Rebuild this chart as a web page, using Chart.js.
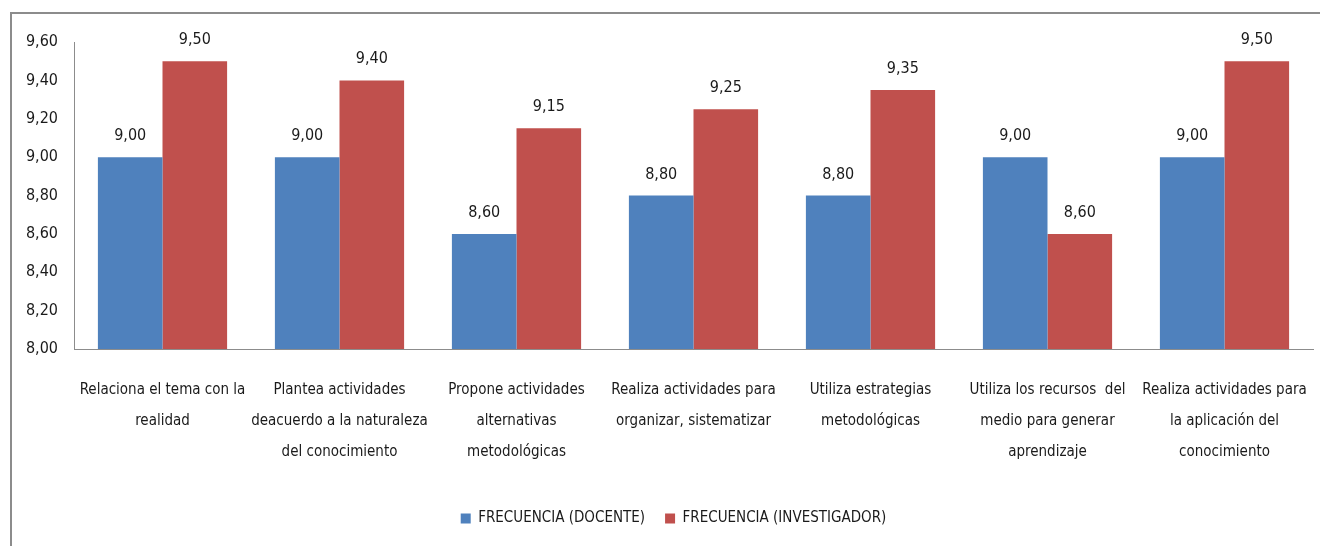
<!DOCTYPE html>
<html>
<head>
<meta charset="utf-8">
<script src="https://cdn.jsdelivr.net/npm/chart.js@4.4.1/dist/chart.umd.min.js"></script>
<style>
    html, body { margin: 0; padding: 0; background: #fff; overflow: hidden; }
    #marco { position: absolute; left: 10px; top: 12px; width: 1340px; height: 560px;
             border-left: 2px solid #8c8c8c; border-top: 2px solid #8c8c8c; }
    #contenedor { position: absolute; left: 0; top: 0; width: 1320px; height: 546px; }
</style>
</head>
<body>
<div id="marco"></div>
<div id="contenedor"><canvas id="grafica" width="1320" height="546"></canvas></div>
<script>
// categorias (cada una partida en lineas como en la imagen)
const categorias = [
    ['Relaciona el tema con la', 'realidad'],
    ['Plantea actividades', 'deacuerdo a la naturaleza', 'del conocimiento'],
    ['Propone actividades', 'alternativas', 'metodológicas'],
    ['Realiza actividades para', 'organizar, sistematizar'],
    ['Utiliza estrategias', 'metodológicas'],
    ['Utiliza los recursos  del', 'medio para generar', 'aprendizaje'],
    ['Realiza actividades para', 'la aplicación del', 'conocimiento']
];
const nombresSeries = ['FRECUENCIA (DOCENTE)', 'FRECUENCIA (INVESTIGADOR)'];
const valoresDocente = [9.00, 9.00, 8.60, 8.80, 8.80, 9.00, 9.00];
const valoresInvestigador = [9.50, 9.40, 9.15, 9.25, 9.35, 8.60, 9.50];
const ejeMin = 8.00;
const ejeMax = 9.60;
const ejePaso = 0.20;

const fuente = "'Liberation Sans Narrow', 'DejaVu Sans Condensed', 'Arial Narrow', sans-serif";

// numeros con coma decimal
function conComa(v) {
    return Number(v).toFixed(2).replace('.', ',');
}

// plugin para poner el valor encima de cada barra
const etiquetasBarras = {
    id: 'etiquetasBarras',
    afterDatasetsDraw(chart) {
        const ctx = chart.ctx;
        ctx.save();
        ctx.font = '16px ' + fuente;
        ctx.fillStyle = '#1a1a1a';
        ctx.textAlign = 'center';
        ctx.textBaseline = 'alphabetic';
        chart.data.datasets.forEach((ds, i) => {
            const meta = chart.getDatasetMeta(i);
            meta.data.forEach((barra, j) => {
                ctx.fillText(conComa(ds.data[j]), barra.x, barra.y - 17);
            });
        });
        ctx.restore();
    }
};

// la leyenda del original esta un poco corrida a la derecha
const moverLeyenda = {
    id: 'moverLeyenda',
    afterLayout(chart) {
        if (chart.legend) {
            chart.legend.left += 17;
            chart.legend.right += 17;
        }
    }
};

const ctx = document.getElementById('grafica').getContext('2d');
const chart = new Chart(ctx, {
    type: 'bar',
    data: {
        labels: categorias,
        datasets: [
            {
                label: nombresSeries[0],
                data: valoresDocente,
                backgroundColor: '#4F81BD',
                borderWidth: 0,
                barPercentage: 1.0,
                categoryPercentage: 0.73
            },
            {
                label: nombresSeries[1],
                data: valoresInvestigador,
                backgroundColor: '#C0504D',
                borderWidth: 0,
                barPercentage: 1.0,
                categoryPercentage: 0.73
            }
        ]
    },
    options: {
        responsive: false,
        animation: false,
        devicePixelRatio: 1,
        layout: { padding: { top: 42, right: 7, bottom: 10, left: 0 } },
        scales: {
            x: {
                grid: { display: false, drawTicks: false },
                border: { display: true, color: '#8c8c8c', width: 1 },
                ticks: {
                    color: '#1a1a1a',
                    font: { family: fuente, size: 15, lineHeight: 31 / 15 },
                    padding: 26,
                    maxRotation: 0,
                    autoSkip: false
                },
                afterFit(scale) {
                    scale.height = 142;
                    scale.paddingLeft = 0;
                    scale.paddingRight = 0;
                }
            },
            y: {
                min: ejeMin,
                max: ejeMax,
                grid: { display: false, drawTicks: false },
                border: { display: true, color: '#8c8c8c', width: 1 },
                ticks: {
                    stepSize: ejePaso,
                    color: '#1a1a1a',
                    font: { family: fuente, size: 16 },
                    padding: 16,
                    callback: (v) => conComa(v)
                },
                afterFit(scale) { scale.width = 74; }
            }
        },
        plugins: {
            legend: {
                position: 'bottom',
                labels: {
                    boxWidth: 10,
                    boxHeight: 10,
                    padding: 20,
                    color: '#1a1a1a',
                    font: { family: fuente, size: 15 }
                }
            },
            tooltip: { enabled: false }
        }
    },
    plugins: [etiquetasBarras, moverLeyenda]
});
</script>
</body>
</html>
